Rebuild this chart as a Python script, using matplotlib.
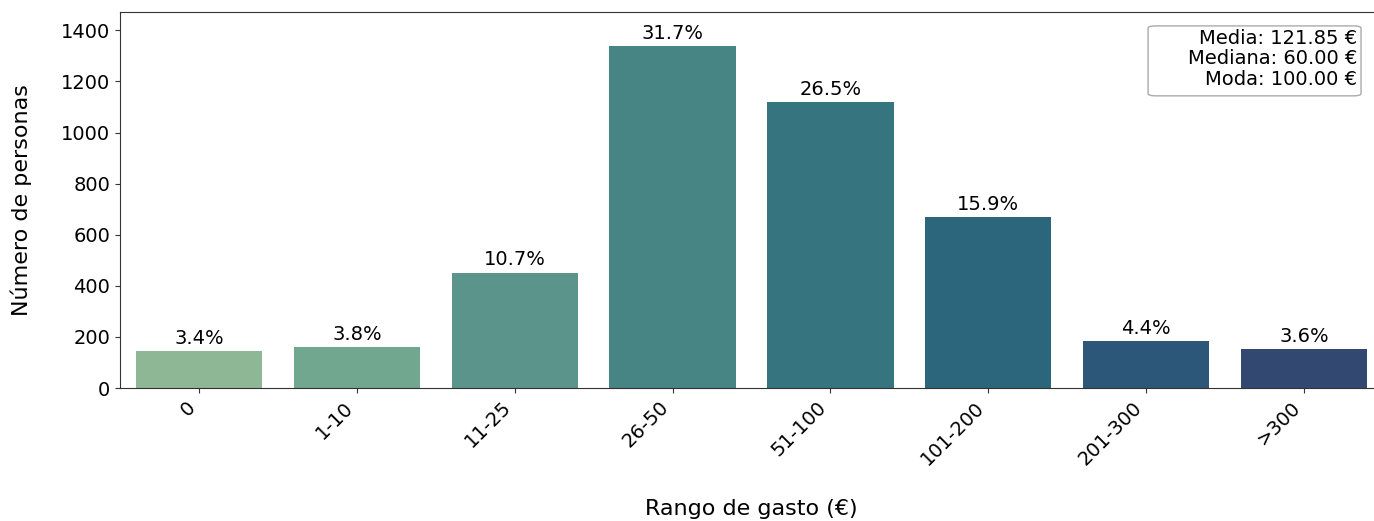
import matplotlib
matplotlib.use("Agg")
import matplotlib.pyplot as plt
from matplotlib.patches import FancyBboxPatch
import seaborn as sns
import pandas as pd

# Datos
rangos = ["0", "1-10", "11-25", "26-50", "51-100", "101-200", "201-300", ">300"]
personas = [143, 160, 452, 1338, 1118, 669, 184, 152]
media, mediana, moda = 121.85, 60.00, 100.00

df = pd.DataFrame({"rango": rangos, "personas": personas})
total = df["personas"].sum()

fig = plt.figure(figsize=(13.74, 5.21), dpi=100)
ax = fig.add_axes([120 / 1374, 1 - 388 / 521, 1263 / 1374, 376 / 521])

sns.barplot(data=df, x="rango", y="personas", hue="rango", palette="crest",
            legend=False, ax=ax)

for i, v in enumerate(personas):
    ax.text(i, v + 12, f"{v / total * 100:.1f}%", ha="center", va="bottom", fontsize=14)

ax.set_ylim(0, max(personas) * 1.1)
ax.set_xlim(-0.5, len(rangos) - 0.5)
ax.set_xticks(range(len(rangos)))
ax.set_xticklabels(rangos, rotation=45, ha="right", fontsize=14)
ax.tick_params(axis="y", labelsize=14)
ax.tick_params(color="#333333")
for s in ax.spines.values():
    s.set_color("#333333")
ax.set_xlabel("Rango de gasto (€)", fontsize=16, labelpad=22)
ax.set_ylabel("Número de personas", fontsize=16, labelpad=21)

# cuadro de estadisticos (tipo leyenda, texto alineado a la derecha)
stats = f"Media: {media:.2f} €\nMediana: {mediana:.2f} €\nModa: {moda:.2f} €"
ax.add_patch(FancyBboxPatch((0.814, 0.777), 0.1686, 0.186,
                            boxstyle="round,pad=0,rounding_size=0.006",
                            transform=ax.transAxes, facecolor="white",
                            edgecolor="#aaaaaa", linewidth=1, zorder=5))
ax.text(0.9794, 0.955, stats, transform=ax.transAxes, ha="right", va="top",
        fontsize=14, linespacing=1.1, zorder=6)

fig.savefig("out.png", dpi=100)
